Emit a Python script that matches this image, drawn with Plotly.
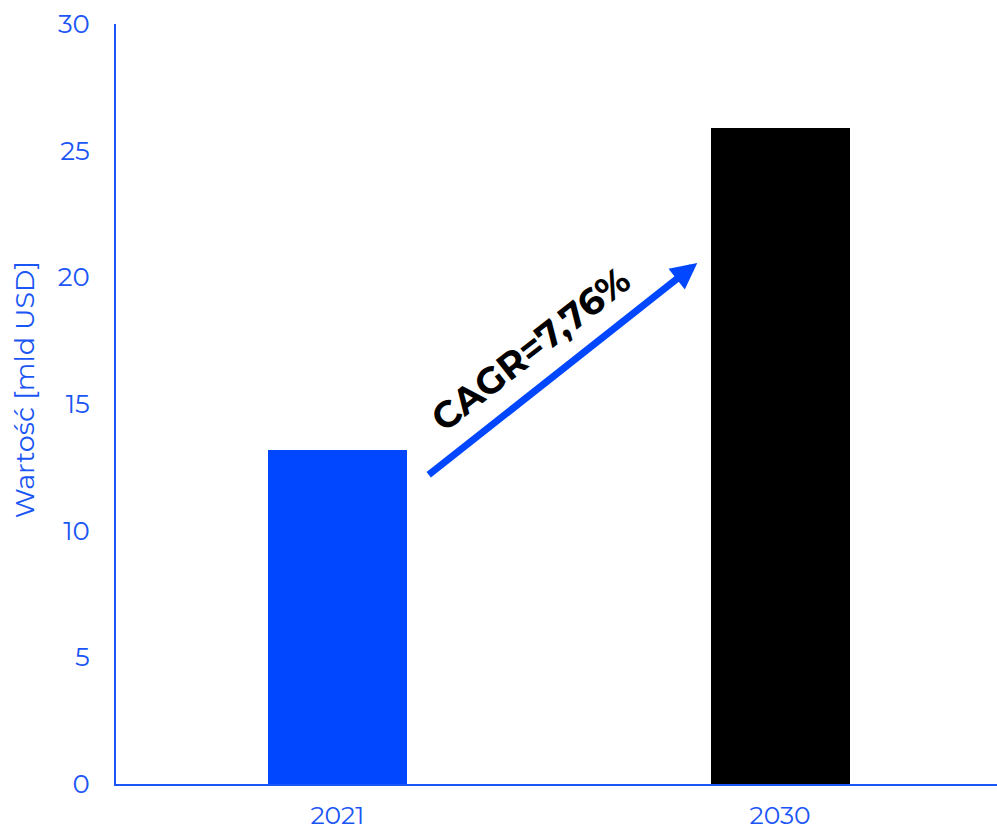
import plotly.graph_objects as go

# Market value by year
years = ["2021", "2030"]
values = [13.2, 25.9]
bar_colors = ["#0047FF", "#000000"]

y_ticks = [0, 5, 10, 15, 20, 25, 30]
y_title = "Wartość [mld USD]"
cagr_label = "CAGR=7,76%"

# CAGR arrow endpoints (category index, value)
arrow_tail = (0.203, 12.16)
arrow_tip = (0.813, 20.57)
label_pos = (0.436, 17.2)

blue = "#0047FF"
axis_blue = "#1A55F5"
font_family = "Montserrat, 'Open Sans', 'Noto Sans', sans-serif"

fig = go.Figure()
fig.add_trace(go.Bar(
    x=[0, 1],
    y=values,
    marker=dict(color=bar_colors, line=dict(width=0)),
    width=0.314,
    showlegend=False,
    hoverinfo="skip",
))

fig.add_annotation(
    x=arrow_tip[0], y=arrow_tip[1],
    ax=arrow_tail[0], ay=arrow_tail[1],
    xref="x", yref="y", axref="x", ayref="y",
    showarrow=True, arrowhead=2, arrowsize=0.75, arrowwidth=7,
    arrowcolor=blue, standoff=0, startstandoff=0, text="",
)
fig.add_annotation(
    x=label_pos[0], y=label_pos[1], xref="x", yref="y",
    text=f"<b>{cagr_label}</b>", showarrow=False, textangle=-38,
    font=dict(family=font_family, size=37, color="#000000"),
)

# Vertical axis title, placed slightly above the plot's midline
fig.add_annotation(
    x=-0.1044, y=0.518, xref="paper", yref="paper",
    text=y_title, showarrow=False, textangle=-90,
    xanchor="center", yanchor="middle",
    font=dict(family=font_family, size=27, color=axis_blue),
)

fig.update_layout(
    width=997, height=829,
    margin=dict(l=116, r=0, t=24, b=45, autoexpand=False),
    paper_bgcolor="white", plot_bgcolor="white",
    font=dict(family=font_family, color=axis_blue, size=26),
    bargap=0,
)
fig.update_xaxes(
    range=[-0.5, 1.49], tickmode="array", tickvals=[0, 1], ticktext=years,
    showline=True, linecolor=axis_blue, linewidth=2, showgrid=False,
    zeroline=False, ticks="", ticklabelstandoff=8, automargin=False,
    tickfont=dict(size=25, color=axis_blue),
)
fig.update_yaxes(
    range=[0, 30], tickvals=y_ticks,
    showline=True, linecolor=axis_blue, linewidth=2, showgrid=False,
    zeroline=False, ticks="", ticklabelstandoff=19, automargin=False,
    tickfont=dict(size=26, color=axis_blue),
)

fig.write_html("out.html")
